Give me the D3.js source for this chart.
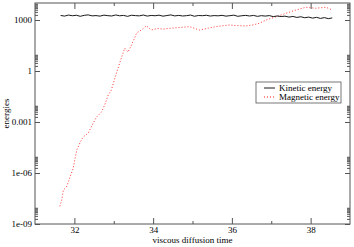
<!DOCTYPE html>
<html>
<head>
<meta charset="utf-8">
<script src="https://cdn.jsdelivr.net/npm/d3@7"></script>
<style>
  body { margin: 0; background: #fff; }
  text { font-family: "Liberation Serif", "DejaVu Serif", serif; font-size: 9px; fill: #000; }
</style>
</head>
<body>
<svg id="chart" width="354" height="247"></svg>
<script>
// Data

var kineticTime = [31.65, 31.75, 31.85, 31.95, 32.05, 32.15, 32.25, 32.35, 32.45, 32.55,
  32.65, 32.75, 32.85, 32.95, 33.05, 33.15, 33.25, 33.35, 33.45, 33.55,
  33.65, 33.75, 33.85, 33.95, 34.05, 34.15, 34.25, 34.35, 34.45, 34.55,
  34.65, 34.75, 34.85, 34.95, 35.05, 35.15, 35.25, 35.35, 35.45, 35.55,
  35.65, 35.75, 35.85, 35.95, 36.05, 36.15, 36.25, 36.35, 36.45, 36.55,
  36.65, 36.75, 36.85, 36.95, 37.05, 37.15, 37.25, 37.35, 37.45, 37.55,
  37.65, 37.75, 37.85, 37.95, 38.05, 38.15, 38.25, 38.35, 38.45, 38.55];

var kineticEnergy = [1850, 1700, 1950, 1780, 1900, 1650, 1880, 2000, 1750, 1820,
  1690, 1930, 1800, 1720, 1980, 1770, 1860, 1640, 1900, 1810,
  1750, 1960, 1700, 1850, 1780, 1920, 1680, 1830, 1990, 1740,
  1870, 1720, 1800, 1950, 1660, 1840, 1790, 1900, 1710, 1820,
  1760, 1880, 1690, 1800, 1930, 1650, 1780, 1870, 1720, 1860,
  1640, 1800, 1700, 1820, 1580, 1720, 1600, 1680, 1480, 1620,
  1420, 1550, 1360, 1480, 1290, 1430, 1240, 1380, 1200, 1330];

var magneticTime = [31.63, 31.68, 31.72, 31.80, 31.89, 31.97, 32.01, 32.06, 32.14, 32.22,
  32.35, 32.48, 32.56, 32.69, 32.77, 32.86, 32.94, 33.03, 33.11, 33.20,
  33.28, 33.36, 33.45, 33.53, 33.58, 33.70, 33.83, 33.95, 34.11, 34.25,
  34.42, 34.65, 34.92, 35.18, 35.40, 35.60, 35.94, 36.10, 36.36, 36.55,
  36.70, 36.87, 37.12, 37.37, 37.63, 37.88, 38.13, 38.39, 38.55];

var magneticEnergy = [1.1e-8, 2.6e-8, 1.0e-7, 1.5e-7, 5.8e-7, 1.9e-6, 5.8e-6, 2.2e-5, 5.8e-5, 1.3e-4,
  2.2e-4, 8.7e-4, 1.9e-3, 3.9e-3, 1.0e-2, 3.9e-2, 7.6e-2, 0.39, 1.5, 6.6,
  22, 13, 34, 87, 174, 257, 457, 257, 316, 290,
  324, 360, 407, 257, 330, 407, 513, 470, 447, 520,
  646, 1000, 1550, 2450, 3890, 5620, 4900, 5620, 3890];

var xTicks = [32, 34, 36, 38];
var xMinorTicks = [33, 35, 37];
var yTicks = [1e-9, 1e-6, 1e-3, 1, 1e3];
var yTickLabels = ["1e-09", "1e-06", "0.001", "1", "1000"];

var seriesNames = ["Kinetic energy", "Magnetic energy"];

// Layout
var svg = d3.select("#chart");
var margin = {top: 3, right: 4, bottom: 23, left: 35};
var width = 354 - margin.left - margin.right;
var height = 247 - margin.top - margin.bottom;

var x = d3.scaleLinear().domain([31, 39]).range([0, width]);
var y = d3.scaleLog().domain([1e-9, 1e4]).range([height, 0]);

var g = svg.append("g")
  .attr("transform", "translate(" + margin.left + "," + margin.top + ")");

// minor log ticks: 2..9 times each labelled tick
var yMinorTicks = [];
yTicks.forEach(function(v) {
  d3.range(2, 10).forEach(function(k) { yMinorTicks.push(k * v); });
});

function styleAxis(sel) {
  sel.select(".domain").remove();
  sel.selectAll("line").attr("stroke", "#555");
}

// bottom axis
g.append("g").attr("transform", "translate(0," + height + ")")
  .call(d3.axisBottom(x).tickValues(xTicks).tickSize(-6).tickPadding(3).tickFormat(d3.format("d")))
  .call(styleAxis);
g.append("g").attr("transform", "translate(0," + height + ")")
  .call(d3.axisBottom(x).tickValues(xMinorTicks).tickSize(-3).tickFormat(""))
  .call(styleAxis);
// top axis
g.append("g")
  .call(d3.axisTop(x).tickValues(xTicks).tickSize(-6).tickFormat(""))
  .call(styleAxis);
g.append("g")
  .call(d3.axisTop(x).tickValues(xMinorTicks).tickSize(-3).tickFormat(""))
  .call(styleAxis);
// left axis
g.append("g")
  .call(d3.axisLeft(y).tickValues(yTicks).tickSize(-5).tickPadding(3)
    .tickFormat(function(d, i) { return yTickLabels[i]; }))
  .call(styleAxis);
g.append("g")
  .call(d3.axisLeft(y).tickValues(yMinorTicks).tickSize(-3).tickFormat(""))
  .call(styleAxis);
// right axis
g.append("g").attr("transform", "translate(" + width + ",0)")
  .call(d3.axisRight(y).tickValues(yTicks).tickSize(-5).tickFormat(""))
  .call(styleAxis);
g.append("g").attr("transform", "translate(" + width + ",0)")
  .call(d3.axisRight(y).tickValues(yMinorTicks).tickSize(-3).tickFormat(""))
  .call(styleAxis);

g.selectAll(".tick text")
  .style("font-family", "'Liberation Serif', serif")
  .style("font-size", "9px")
  .attr("fill", "#000");

// frame
g.append("rect")
  .attr("width", width)
  .attr("height", height)
  .attr("fill", "none")
  .attr("stroke", "#555")
  .attr("stroke-width", 1);

// lines
var kinetic = kineticTime.map(function(t, i) { return [t, kineticEnergy[i]]; });
var magnetic = magneticTime.map(function(t, i) { return [t, magneticEnergy[i]]; });

var line = d3.line()
  .x(function(d) { return x(d[0]); })
  .y(function(d) { return y(d[1]); });

g.append("path")
  .datum(magnetic)
  .attr("d", line)
  .attr("fill", "none")
  .attr("stroke", "#ff0000")
  .attr("stroke-width", 0.8)
  .attr("stroke-dasharray", "1,2");

g.append("path")
  .datum(kinetic)
  .attr("d", line)
  .attr("fill", "none")
  .attr("stroke", "#000")
  .attr("stroke-width", 0.9);

// axis titles
svg.append("text")
  .attr("x", margin.left + width / 2)
  .attr("y", 243)
  .attr("text-anchor", "middle")
  .text("viscous diffusion time");

svg.append("text")
  .attr("transform", "translate(9," + (margin.top + height / 2) + ") rotate(-90)")
  .attr("text-anchor", "middle")
  .text("energies");

// legend
var legend = svg.append("g").attr("transform", "translate(256,82)");
legend.append("rect")
  .attr("width", 85)
  .attr("height", 21)
  .attr("fill", "#fff")
  .attr("stroke", "#555")
  .attr("stroke-width", 0.8);

legend.selectAll(".key")
  .data(seriesNames)
  .enter().append("line")
  .attr("x1", 8).attr("x2", 19)
  .attr("y1", function(d, i) { return 6 + i * 9; })
  .attr("y2", function(d, i) { return 6 + i * 9; })
  .attr("stroke", function(d, i) { return i === 0 ? "#000" : "#ff0000"; })
  .attr("stroke-width", 0.9)
  .attr("stroke-dasharray", function(d, i) { return i === 0 ? null : "1,2"; });

legend.selectAll(".label")
  .data(seriesNames)
  .enter().append("text")
  .attr("x", 23)
  .attr("y", function(d, i) { return 9 + i * 9; })
  .text(function(d) { return d; });
</script>
</body>
</html>
